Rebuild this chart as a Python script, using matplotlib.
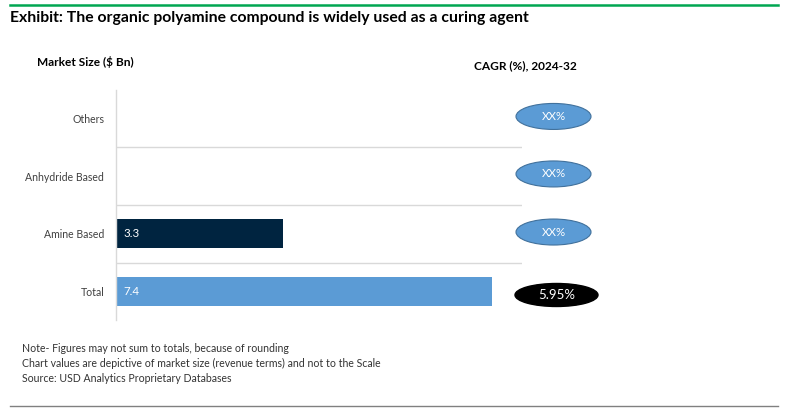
import matplotlib
matplotlib.use("Agg")
import matplotlib.pyplot as plt
from matplotlib.patches import Ellipse
from matplotlib.lines import Line2D

categories = ["Total", "Amine Based", "Anhydride Based", "Others"]
market_size = [7.4, 3.3, None, None]
cagr_labels = ["5.95%", "XX%", "XX%", "XX%"]
bar_colors = ["#5b9bd5", "#002440", "#5b9bd5", "#5b9bd5"]

W, H = 788, 415
fig = plt.figure(figsize=(W / 100, H / 100), dpi=100)
plt.rcParams['font.family'] = ['Lato', 'DejaVu Sans']

def fx(px):
    return px / W

def fy(py):
    return 1 - py / H

# top green line and bottom gray line
fig.add_artist(Line2D([fx(10), fx(778)], [fy(5), fy(5)], color="#00a651", lw=1.8))
fig.add_artist(Line2D([fx(10), fx(778)], [fy(406), fy(406)], color="#808080", lw=1.0))

fig.text(fx(10), fy(18), "Exhibit: The organic polyamine compound is widely used as a curing agent",
         fontsize=11.3, fontweight="bold", ha="left", va="center", color="#000000")
fig.text(fx(37), fy(62), "Market Size ($ Bn)", fontsize=8.6, fontweight="bold", ha="left", va="center")
fig.text(fx(474), fy(66), "CAGR (%), 2024-32", fontsize=8.6, fontweight="bold", ha="left", va="center")

notes = ["Note- Figures may not sum to totals, because of rounding",
         "Chart values are depictive of market size (revenue terms) and not to the Scale",
         "Source: USD Analytics Proprietary Databases"]
for i, t in enumerate(notes):
    fig.text(fx(22), fy(348 + 15 * i), t, fontsize=7.6, ha="left", va="center", color="#333333")

# main bar axes
left, right, top, bottom = 116, 522, 90, 320
ax = fig.add_axes([fx(left), fy(bottom), fx(right - left), (bottom - top) / H])
ypos = list(range(len(categories)))
for y, v, c in zip(ypos, market_size, bar_colors):
    if v is not None:
        ax.barh(y, v, height=0.5, color=c)
        ax.text(0.15, y, f"{v}", color="white", fontsize=8.3, ha="left", va="center")
ax.set_xlim(0, 8)
ax.set_ylim(-0.5, len(categories) - 0.5)
ax.set_yticks(ypos)
ax.set_yticklabels(categories, fontsize=7.6, color="#404040")
ax.tick_params(axis="y", length=0, pad=8.5)
ax.set_xticks([])
for b in [0.5, 1.5, 2.5]:
    ax.axhline(b, color="#d9d9d9", lw=1.0)
for s in ["top", "right", "bottom"]:
    ax.spines[s].set_visible(False)
ax.spines["left"].set_color("#d9d9d9")
ax.spines["left"].set_linewidth(1.0)

# CAGR ellipses axes
ax2 = fig.add_axes([fx(505), fy(bottom), fx(100), (bottom - top) / H])
ax2.set_xlim(0, 100)
ax2.set_ylim(-0.5, len(categories) - 0.5)
ax2.axis("off")
ycent = [-0.065, 1.03, 2.04, 3.04]
for y, lab, yc in zip(ypos, cagr_labels, ycent):
    if lab == "5.95%":
        e = Ellipse((51.5, yc), 83, 23 / 57.5, facecolor="black", edgecolor="black")
        ax2.add_patch(e)
        ax2.text(51.5, yc, lab, color="white", fontsize=9.5, ha="center", va="center")
    else:
        e = Ellipse((48.5, yc), 75, 26 / 57.5, facecolor="#5b9bd5", edgecolor="#41719c", lw=0.8)
        ax2.add_patch(e)
        ax2.text(48.5, yc, lab, color="white", fontsize=8.3, ha="center", va="center")

fig.savefig("out.png", dpi=100)
